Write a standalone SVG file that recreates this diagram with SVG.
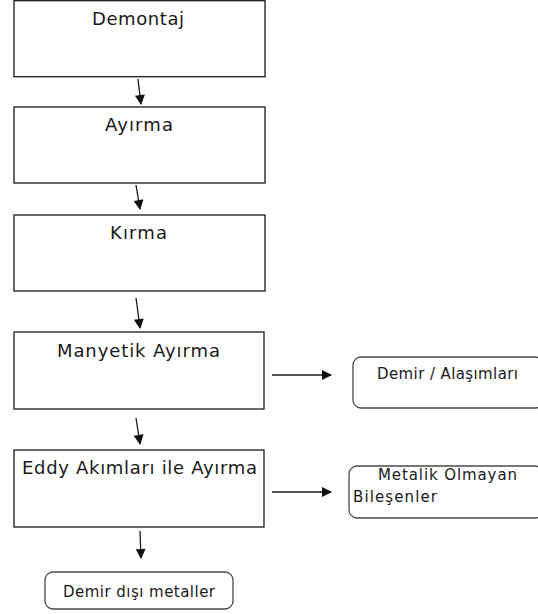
<svg xmlns="http://www.w3.org/2000/svg" width="538" height="614" viewBox="0 0 538 614">
  <style>
    .step { fill: #ffffff; stroke: #1a1a1a; stroke-width: 1.3; }
    .out { fill: #ffffff; stroke: #4a4a4a; stroke-width: 1.3; }
    .lbl { font-family: "DejaVu Sans", Verdana, sans-serif; fill: #1a1a1a; }
    .big { font-size: 18px; }
    .small { font-size: 15px; }
    .flow { stroke: #1a1a1a; stroke-width: 1.3; fill: none; marker-end: url(#head); }
  </style>
  <defs>
    <marker id="head" viewBox="0 0 10 10" refX="9" refY="5" markerWidth="11" markerHeight="10" markerUnits="userSpaceOnUse" orient="auto">
      <path d="M0,0 L10,5 L0,10 Z" fill="#111111"/>
    </marker>
  </defs>

  <g id="demontaj">
    <rect class="step" x="14" y="0.7" width="251" height="76"/>
    <text class="lbl big" x="92" y="25" textLength="92" lengthAdjust="spacing">Demontaj</text>
  </g>
  <g id="ayirma">
    <rect class="step" x="14" y="107" width="251" height="76"/>
    <text class="lbl big" x="105" y="131" textLength="68" lengthAdjust="spacing">Ayırma</text>
  </g>
  <g id="kirma">
    <rect class="step" x="14" y="215" width="251" height="76"/>
    <text class="lbl big" x="110" y="239" textLength="57" lengthAdjust="spacing">Kırma</text>
  </g>
  <g id="manyetik">
    <rect class="step" x="14" y="332" width="250" height="77"/>
    <text class="lbl big" x="57" y="357" textLength="163" lengthAdjust="spacing">Manyetik Ayırma</text>
  </g>
  <g id="eddy">
    <rect class="step" x="14" y="450" width="250" height="77"/>
    <text class="lbl big" x="22" y="474" textLength="235" lengthAdjust="spacing">Eddy Akımları ile Ayırma</text>
  </g>
  <g id="demir-alasim">
    <rect class="out" x="353" y="357" width="190" height="51" rx="8"/>
    <text class="lbl small" x="377" y="379" textLength="141" lengthAdjust="spacing">Demir / Alaşımları</text>
  </g>
  <g id="metalik-olmayan">
    <rect class="out" x="349" y="466" width="194" height="52" rx="8"/>
    <text class="lbl small" x="378" y="480" textLength="139" lengthAdjust="spacing">Metalik  Olmayan</text>
    <text class="lbl small" x="353" y="502" textLength="84" lengthAdjust="spacing">Bileşenler</text>
  </g>
  <g id="demir-disi">
    <rect class="out" x="45" y="572" width="188" height="37" rx="8"/>
    <text class="lbl small" x="63" y="597" textLength="152" lengthAdjust="spacing">Demir dışı metaller</text>
  </g>

  <g id="connectors">
    <line class="flow" x1="138" y1="79" x2="141" y2="104"/>
    <line class="flow" x1="136" y1="185" x2="140" y2="209"/>
    <line class="flow" x1="136" y1="298" x2="140" y2="328"/>
    <line class="flow" x1="136" y1="418" x2="140" y2="444"/>
    <line class="flow" x1="140" y1="531" x2="141" y2="558"/>
    <line class="flow" x1="272" y1="375" x2="331" y2="375"/>
    <line class="flow" x1="272" y1="492" x2="331" y2="492"/>
  </g>
</svg>
